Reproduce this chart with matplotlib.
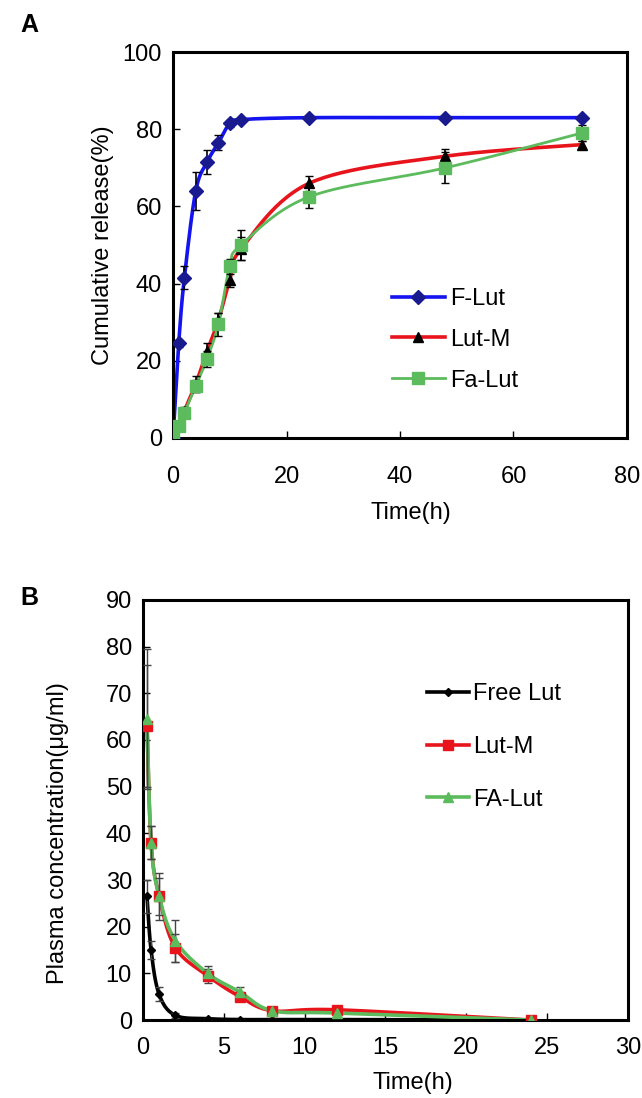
import numpy as np
import matplotlib.pyplot as plt
from matplotlib.lines import Line2D

plt.rcParams['font.family'] = ['Liberation Sans', 'DejaVu Sans']

# Panel A: in vitro release
t_rel = [0, 1, 2, 4, 6, 8, 10, 12, 24, 48, 72]
f_lut = [0, 24.5, 41.5, 64, 71.5, 76.5, 81.5, 82.5, 83, 83, 83]
f_lut_err = [0, 1, 3, 5, 3, 2, 1, 0.5, 0.5, 0.5, 0.5]
lut_m = [0, 3, 7, 14, 22.5, 30.5, 41, 49, 66, 73, 76]
lut_m_err = [0, 0.5, 1, 2, 2, 2, 2, 3, 2, 2, 1]
fa_lut = [0, 3, 6.5, 13.5, 20.5, 29.5, 44.5, 50, 62.5, 70, 79]
fa_lut_err = [0, 0.5, 1, 1.5, 2, 3, 2, 4, 3, 4, 2]

# Panel B: plasma concentration
t_pk = [0.25, 0.5, 1, 2, 4, 6, 8, 12, 24]
free_lut = [26.5, 15, 5.5, 1, 0.3, 0.1, 0.1, 0.1, 0]
free_lut_err = [3.5, 2, 1.5, 0.5, 0.2, 0.1, 0.1, 0.1, 0]
pk_lut_m = [63, 38, 26.5, 15.5, 9.5, 5, 2, 2.2, 0]
pk_lut_m_err = [13, 3.5, 4, 3, 1.5, 1, 0.5, 0.5, 0]
pk_fa_lut = [64.5, 38, 26.5, 17, 10, 6, 2, 1.5, 0]
pk_fa_lut_err = [15, 3.5, 5, 4.5, 1.5, 1, 0.5, 0.5, 0]

FS = 17


def smooth(x, y, xr, yr, n=30):
    # Catmull-Rom style smoothing, like a spreadsheet "smoothed line"
    p = np.column_stack([np.asarray(x, float) / xr, np.asarray(y, float) / yr])
    pts = np.vstack([p[0], p, p[-1]])
    out = []
    s = np.linspace(0, 1, n)[:, None]
    for i in range(1, len(pts) - 2):
        p0, p1, p2, p3 = pts[i - 1], pts[i], pts[i + 1], pts[i + 2]
        m1 = (p2 - p0) / 2
        m2 = (p3 - p1) / 2
        h00 = 2 * s**3 - 3 * s**2 + 1
        h10 = s**3 - 2 * s**2 + s
        h01 = -2 * s**3 + 3 * s**2
        h11 = s**3 - s**2
        out.append(h00 * p1 + h10 * m1 + h01 * p2 + h11 * m2)
    c = np.vstack(out)
    return c[:, 0] * xr, c[:, 1] * yr


def style(ax, xpad):
    for sp in ax.spines.values():
        sp.set_linewidth(2.2)
    ax.tick_params(direction='in', length=5, width=1, labelsize=FS,
                   top=False, right=False)
    ax.tick_params(axis='x', pad=xpad)
    ax.tick_params(axis='y', pad=8)


fig = plt.figure(figsize=(6.42, 10.98), dpi=100)

# ---------- A ----------
axA = fig.add_axes([0.2695, 0.6011, 0.7071, 0.3515])
blue, red, green = '#1414f0', '#e8141c', '#5cbb5c'
series_a = [
    (f_lut, f_lut_err, blue, 'D', '#1a1a90', 7, 2.6, 'F-Lut'),
    (lut_m, lut_m_err, red, '^', 'black', 7.5, 2.6, 'Lut-M'),
    (fa_lut, fa_lut_err, green, 's', green, 9, 2.0, 'Fa-Lut'),
]
handles = []
for y, e, c, m, mc, ms, lw, lab in series_a:
    sx, sy = smooth(t_rel, y, 80, 100)
    axA.plot(sx, sy, color=c, lw=lw, zorder=2)
    axA.errorbar(t_rel, y, yerr=e, fmt='none', ecolor='black', elinewidth=1.2,
                 capsize=3, zorder=3)
    axA.plot(t_rel, y, ls='none', marker=m, color=mc, ms=ms, zorder=4)
    handles.append(Line2D([], [], color=c, lw=lw, marker=m, mfc=mc, mec=mc,
                          ms=ms, label=lab))
axA.set_xlim(0, 80)
axA.set_ylim(0, 100)
axA.set_xticks([0, 20, 40, 60, 80])
axA.set_yticks([0, 20, 40, 60, 80, 100])
style(axA, 20)
axA.set_xlabel('Time(h)', fontsize=FS)
axA.xaxis.label.set_va('center')
axA.xaxis.set_label_coords(0.524, -0.195)
axA.set_ylabel('Cumulative release(%)', fontsize=FS)
axA.yaxis.label.set_va('center')
axA.yaxis.set_label_coords(-0.154, 0.5)
axA.legend(handles=handles, loc='upper left', bbox_to_anchor=(0.482, 0.389),
           frameon=False, fontsize=FS, handlelength=2.25, handletextpad=0.2,
           labelspacing=0.8, borderpad=0, borderaxespad=0)
fig.text(0.032, 0.977, 'A', fontsize=18, fontweight='bold', va='center')

# ---------- B ----------
axB = fig.add_axes([0.2227, 0.0710, 0.7555, 0.3826])
series_b = [
    (free_lut, free_lut_err, 'black', 'D', 'black', 4, 'Free Lut'),
    (pk_lut_m, pk_lut_m_err, red, 's', red, 7, 'Lut-M'),
    (pk_fa_lut, pk_fa_lut_err, green, '^', green, 7, 'FA-Lut'),
]
handles = []
for y, e, c, m, mc, ms, lab in series_b:
    sx, sy = smooth(t_pk, y, 30, 90)
    axB.plot(sx, sy, color=c, lw=2.6, zorder=2)
    axB.errorbar(t_pk, y, yerr=e, fmt='none', ecolor='#444444', elinewidth=1.0,
                 capsize=3, zorder=3)
    axB.plot(t_pk, y, ls='none', marker=m, color=mc, ms=ms, zorder=4)
    handles.append(Line2D([], [], color=c, lw=2.6, marker=m, mfc=mc, mec=mc,
                          ms=ms, label=lab))
axB.set_xlim(0, 30)
axB.set_ylim(0, 90)
axB.set_xticks([0, 5, 10, 15, 20, 25, 30])
axB.set_yticks(range(0, 91, 10))
style(axB, 12)
axB.set_xlabel('Time(h)', fontsize=FS)
axB.xaxis.label.set_va('center')
axB.xaxis.set_label_coords(0.557, -0.15)
axB.set_ylabel('Plasma concentration(μg/ml)', fontsize=FS)
axB.yaxis.label.set_va('center')
axB.yaxis.set_label_coords(-0.175, 0.445)
axB.legend(handles=handles, loc='upper left', bbox_to_anchor=(0.586, 0.802),
           frameon=False, fontsize=FS, handlelength=1.75, handletextpad=0.2,
           labelspacing=1.3, borderpad=0, borderaxespad=0)
fig.text(0.032, 0.455, 'B', fontsize=18, fontweight='bold', va='center')

fig.savefig('out.png', dpi=100)
